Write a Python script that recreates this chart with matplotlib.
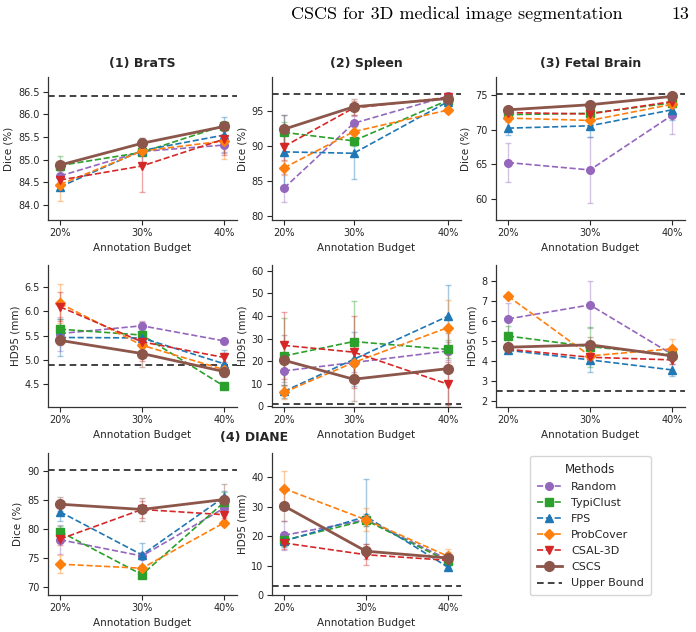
import matplotlib
matplotlib.use("Agg")
import matplotlib.pyplot as plt
import matplotlib.ticker as mticker
from matplotlib.lines import Line2D

# ---------------- data ----------------
budget_labels = ['20%', '30%', '40%']
budget_x = [20, 30, 40]
budget_x_spleen = [20, 28.5, 40]

methods = ['Random', 'TypiClust', 'FPS', 'ProbCover', 'CSAL-3D', 'CSCS']
colors = ['#9467bd', '#2ca02c', '#1f77b4', '#ff7f0e', '#d62728', '#8c564b']
markers = ['o', 's', '^', 'D', 'v', 'o']

# rows: Random, TypiClust, FPS, ProbCover, CSAL-3D, CSCS ; cols: 20%, 30%, 40%
brats_dice = [[84.64, 85.18, 85.32], [84.87, 85.16, 85.75], [84.40, 85.20, 85.54],
              [84.45, 85.19, 85.41], [84.55, 84.86, 85.45], [84.88, 85.36, 85.73]]
brats_dice_err = [[0.10, 0.30, 0.15], [0.20, 0.05, 0.10], [0.05, 0.05, 0.40],
                  [0.37, 0.10, 0.40], [0.10, 0.58, 0.35], [0.05, 0.12, 0.10]]
brats_dice_ub = 86.4

spleen_dice = [[84.0, 93.3, 97.2], [92.0, 90.78, 96.6], [89.2, 89.0, 96.4],
               [86.9, 92.1, 95.2], [89.97, 95.5, 97.0], [92.45, 95.66, 96.85]]
spleen_dice_err = [[2.0, 1.0, 0.3], [1.5, 0.8, 0.5], [5.3, 3.7, 0.6],
                   [1.0, 1.5, 0.4], [2.0, 1.0, 0.4], [2.0, 1.1, 0.5]]
spleen_dice_ub = 97.5

fetal_dice = [[65.24, 64.17, 72.1], [72.2, 72.4, 73.9], [70.24, 70.58, 72.9],
              [71.7, 71.36, 73.7], [72.5, 72.3, 74.1], [72.9, 73.64, 74.85]]
fetal_dice_err = [[2.8, 4.8, 2.7], [0.5, 0.6, 0.5], [1.0, 1.6, 1.5],
                  [0.6, 0.8, 0.6], [0.5, 0.5, 0.5], [0.4, 0.3, 0.3]]
fetal_dice_ub = 75.25

brats_hd = [[5.54, 5.70, 5.39], [5.63, 5.51, 4.46], [5.46, 5.45, 4.92],
            [6.16, 5.30, 4.80], [6.09, 5.37, 5.05], [5.40, 5.13, 4.76]]
brats_hd_err = [[0.35, 0.10, 0.05], [0.20, 0.10, 0.03], [0.38, 0.10, 0.28],
                [0.40, 0.15, 0.10], [0.30, 0.40, 0.10], [0.10, 0.28, 0.05]]
brats_hd_ub = 4.9

spleen_hd = [[15.7, 19.4, 24.5], [22.3, 28.7, 25.2], [6.6, 20.8, 39.9],
             [6.2, 19.4, 34.9], [27.0, 24.0, 9.8], [20.4, 12.0, 16.7]]
spleen_hd_err = [[5.0, 4.0, 4.0], [17.0, 18.0, 4.0], [3.0, 12.0, 14.0],
                 [3.0, 5.0, 12.0], [15.0, 16.0, 10.0], [11.0, 9.5, 16.0]]
spleen_hd_ub = 0.9

fetal_hd = [[6.11, 6.81, 4.35], [5.26, 4.73, 4.32], [4.55, 4.07, 3.57],
            [7.25, 4.27, 4.62], [4.60, 4.20, 4.07], [4.70, 4.82, 4.27]]
fetal_hd_err = [[0.8, 1.17, 0.2], [0.5, 1.0, 0.2], [0.1, 0.6, 0.3],
                [0.1, 0.3, 0.5], [0.2, 0.2, 0.2], [0.2, 0.4, 0.2]]
fetal_hd_ub = 2.5

diane_dice = [[78.2, 75.4, 83.6], [79.6, 72.2, 84.6], [83.0, 75.6, 85.5],
              [74.0, 73.3, 81.1], [78.3, 83.4, 82.5], [84.3, 83.4, 85.1]]
diane_dice_err = [[2.5, 0.5, 1.0], [1.0, 0.5, 1.8], [1.6, 2.0, 1.0],
                  [1.6, 0.5, 0.5], [1.0, 1.5, 0.5], [1.2, 2.0, 2.7]]
diane_dice_ub = 90.2

diane_hd = [[20.3, 25.6, 12.1], [18.6, 25.4, 11.5], [18.3, 26.7, 9.5],
            [36.2, 25.6, 13.2], [17.7, 13.7, 11.8], [30.3, 14.9, 12.6]]
diane_hd_err = [[5.0, 2.0, 1.5], [2.0, 2.0, 1.5], [2.0, 12.6, 1.0],
                [6.0, 4.0, 2.5], [2.0, 3.5, 1.5], [5.0, 2.5, 2.0]]
diane_hd_ub = 3.0

# ---------------- style ----------------
plt.rcParams['font.family'] = ['DejaVu Sans']
TXT = '#262626'
plt.rcParams['text.color'] = TXT
plt.rcParams['axes.labelcolor'] = TXT
plt.rcParams['xtick.color'] = TXT
plt.rcParams['ytick.color'] = TXT

W, H = 696, 632
fig = plt.figure(figsize=(W / 100, H / 100), dpi=100)


def rect(left, top, width, height):
    return [left / W, 1 - (top + height) / H, width / W, height / H]


col_left = [48, 272, 496]
row_top = [77, 265, 453]
AW, AH = 189, 142
UB_STYLE = dict(color='#222222', linestyle=(0, (4, 2.5)), linewidth=1.2)


def style_of(i):
    ours = methods[i] == 'CSCS'
    return dict(color=colors[i], marker=markers[i],
                linestyle='-' if ours else '--',
                linewidth=2.0 if ours else 1.2,
                markersize=7 if ours else (5 if markers[i] == 'D' else 5.5))


def panel(ax, xs, means, errs, ub, ylim, yticks, ylabel, title=None):
    for i, m in enumerate(methods):
        ours = (m == 'CSCS')
        ax.errorbar(xs, means[i], yerr=errs[i], fmt='none', ecolor=colors[i], alpha=0.4,
                    elinewidth=1.0, capsize=2.5, capthick=1.0, zorder=2)
        ax.plot(xs, means[i], zorder=4 if ours else 3, **style_of(i))
    ax.axhline(ub, zorder=1, **UB_STYLE)
    ax.set_xlim(18.54, 41.6)
    ax.set_ylim(*ylim)
    ax.set_xticks(xs)
    ax.set_xticklabels(budget_labels)
    ax.set_yticks(yticks)
    ax.set_xlabel('Annotation Budget', fontsize=7.5, labelpad=3)
    ax.set_ylabel(ylabel, fontsize=7.5, labelpad=3)
    ax.tick_params(labelsize=7, length=3.5, width=0.8, pad=2.5)
    for s in ['top', 'right']:
        ax.spines[s].set_visible(False)
    for s in ['left', 'bottom']:
        ax.spines[s].set_color('#333333')
        ax.spines[s].set_linewidth(0.9)
    if title:
        ax.set_title(title, fontsize=9, fontweight='bold', pad=7)


ax = fig.add_axes(rect(col_left[0], row_top[0], AW, 143))
panel(ax, budget_x, brats_dice, brats_dice_err, brats_dice_ub, (83.67, 86.82),
      [84.0, 84.5, 85.0, 85.5, 86.0, 86.5], 'Dice (%)', '(1) BraTS')
ax.yaxis.set_major_formatter(mticker.FormatStrFormatter('%.1f'))

ax = fig.add_axes(rect(col_left[1], row_top[0], AW, 143))
panel(ax, budget_x_spleen, spleen_dice, spleen_dice_err, spleen_dice_ub, (79.43, 99.94),
      [80, 85, 90, 95], 'Dice (%)', '(2) Spleen')

ax = fig.add_axes(rect(col_left[2], row_top[0], AW, 143))
panel(ax, budget_x, fetal_dice, fetal_dice_err, fetal_dice_ub, (56.9, 77.67),
      [60, 65, 70, 75], 'Dice (%)', '(3) Fetal Brain')

ax = fig.add_axes(rect(col_left[0], row_top[1], AW, AH))
panel(ax, budget_x, brats_hd, brats_hd_err, brats_hd_ub, (4.03, 6.95),
      [4.5, 5.0, 5.5, 6.0, 6.5], 'HD95 (mm)')
ax.yaxis.set_major_formatter(mticker.FormatStrFormatter('%.1f'))

ax = fig.add_axes(rect(col_left[1], row_top[1], AW, AH))
panel(ax, budget_x_spleen, spleen_hd, spleen_hd_err, spleen_hd_ub, (-0.3, 62.6),
      [0, 10, 20, 30, 40, 50, 60], 'HD95 (mm)')

ax = fig.add_axes(rect(col_left[2], row_top[1], AW, AH))
panel(ax, budget_x, fetal_hd, fetal_hd_err, fetal_hd_ub, (1.72, 8.8),
      [2, 3, 4, 5, 6, 7, 8], 'HD95 (mm)')

ax = fig.add_axes(rect(col_left[0], row_top[2], AW, AH))
panel(ax, budget_x, diane_dice, diane_dice_err, diane_dice_ub, (68.7, 93.1),
      [70, 75, 80, 85, 90], 'Dice (%)')

ax = fig.add_axes(rect(col_left[1], row_top[2], AW, AH))
panel(ax, budget_x, diane_hd, diane_hd_err, diane_hd_ub, (0, 48.3),
      [0, 10, 20, 30, 40], 'HD95 (mm)')

fig.text(254 / W, 1 - 438 / H, '(4) DIANE', fontsize=9, fontweight='bold',
         ha='center', va='center')

# header of the page
fig.text(457 / W, 1 - 14 / H, 'CSCS for 3D medical image segmentation', fontsize=13,
         family='cmr10', ha='center', va='center', color='black')
fig.text(689 / W, 1 - 14 / H, '13', fontsize=13, family='cmr10', ha='right',
         va='center', color='black')

# legend
handles = [Line2D([0], [0], label=m, **style_of(i)) for i, m in enumerate(methods)]
handles.append(Line2D([0], [0], label='Upper Bound', **UB_STYLE))
leg = fig.legend(handles=handles, loc='upper left', bbox_to_anchor=(530 / W, 1 - 456 / H),
                 borderaxespad=0, title='Methods', fontsize=8, title_fontsize=8.5,
                 labelspacing=0.55, handlelength=2.3, borderpad=0.6, frameon=True)
leg.get_frame().set_edgecolor('#cccccc')

fig.savefig('out.png', dpi=100)
